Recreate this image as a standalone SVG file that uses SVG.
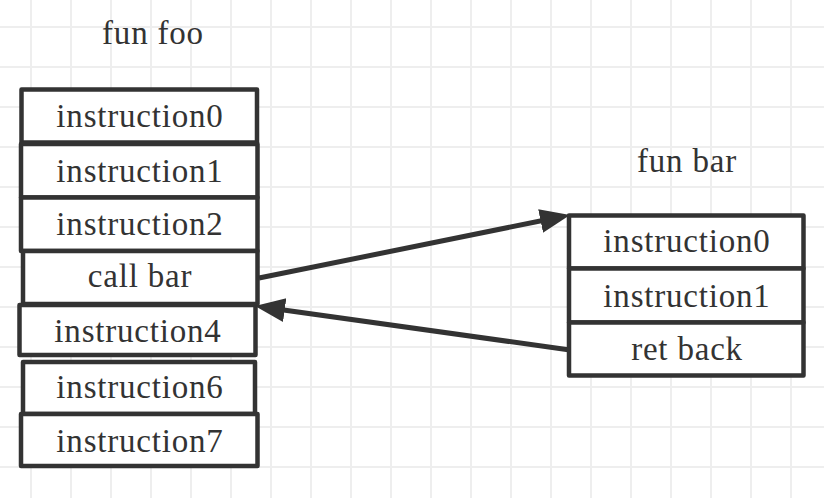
<svg xmlns="http://www.w3.org/2000/svg" width="824" height="498" viewBox="0 0 824 498">
<style>
.box rect{fill:#ffffff;stroke:#333333;stroke-width:4.5;stroke-linejoin:round}
.t{font-family:"Liberation Serif","Times New Roman",serif;font-size:33px;letter-spacing:0.8px;fill:#333333;text-anchor:middle}
.edge{stroke:#333333;stroke-width:5;fill:none}
</style>
<defs>
<pattern id="grid" patternUnits="userSpaceOnUse" x="11" y="7" width="40" height="40">
<path d="M0,20 H40 M20,0 V40" stroke="#eeeeee" stroke-width="2" fill="none"/>
</pattern>
<marker id="arr" markerUnits="userSpaceOnUse" markerWidth="32" markerHeight="26" refX="21" refY="12" orient="auto">
<path d="M0,0 L30,12 L0,24 z" fill="#333333"/>
</marker>
</defs>
<rect width="824" height="498" fill="#ffffff"/>
<rect width="824" height="498" fill="url(#grid)"/>

<text class="t" x="153" y="44">fun foo</text>
<text class="t" x="687" y="172">fun bar</text>

<g id="foo-instruction0" class="box"><rect x="21.5" y="89.5" width="235.5" height="53"/><text class="t" x="140" y="127">instruction0</text></g>
<g id="foo-instruction1" class="box"><rect x="21" y="144" width="236.5" height="53.5"/><text class="t" x="140" y="181.7">instruction1</text></g>
<g id="foo-instruction2" class="box"><rect x="21" y="197.5" width="236.5" height="53.5"/><text class="t" x="140" y="235">instruction2</text></g>
<g id="foo-callbar" class="box"><rect x="23" y="251" width="234.5" height="53"/><text class="t" x="140" y="287">call bar</text></g>
<g id="foo-instruction4" class="box"><rect x="19.5" y="305" width="236" height="50"/><text class="t" x="138" y="341.7">instruction4</text></g>
<g id="foo-instruction6" class="box"><rect x="23" y="362" width="232" height="52"/><text class="t" x="140" y="398.3">instruction6</text></g>
<g id="foo-instruction7" class="box"><rect x="21" y="414" width="236.5" height="52"/><text class="t" x="140" y="451.7">instruction7</text></g>

<g id="bar-instruction0" class="box"><rect x="569" y="215.5" width="234.5" height="53"/><text class="t" x="687" y="252">instruction0</text></g>
<g id="bar-instruction1" class="box"><rect x="569" y="268.5" width="234.5" height="54"/><text class="t" x="687" y="306.7">instruction1</text></g>
<g id="bar-retback" class="box"><rect x="569" y="322.5" width="234.5" height="53"/><text class="t" x="687" y="360">ret back</text></g>

<g id="connectors">
<line class="edge" x1="259" y1="278" x2="561.2" y2="216.8" marker-end="url(#arr)"/>
<line class="edge" x1="570" y1="350" x2="263.9" y2="307.2" marker-end="url(#arr)"/>
</g>
</svg>
